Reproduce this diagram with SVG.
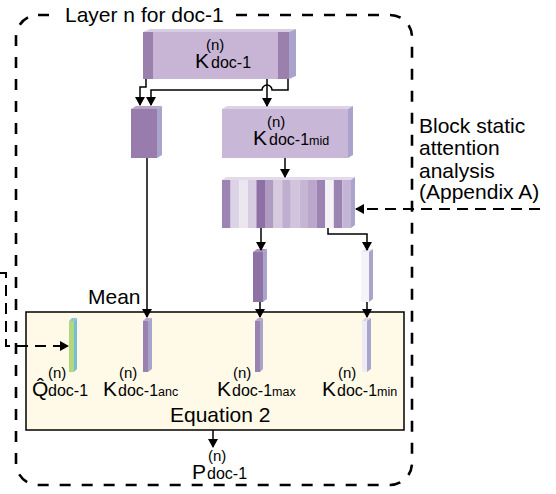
<svg xmlns="http://www.w3.org/2000/svg" width="556" height="494" viewBox="0 0 556 494">
  <style>
    .t{font-family:"Liberation Sans",Arial,Helvetica,sans-serif;fill:#000}
    .m{font-size:21px}
    .sup{font-size:15px}
    .sub{font-size:16px}
    .sm{font-size:12.5px}
    .ln{fill:none;stroke:#000;stroke-width:1.5}
    .dl{fill:none;stroke:#000;stroke-width:2;stroke-dasharray:11 7}
    .frame{fill:none;stroke:#000;stroke-width:2.6;stroke-dasharray:11 11}
    .side{fill:#a9a4cc}
  </style>
  <defs>
    <marker id="ah" markerUnits="userSpaceOnUse" viewBox="0 0 9 10" refX="8" refY="5" markerWidth="9" markerHeight="10" orient="auto">
      <path d="M0,0 L9,5 L0,10 z" fill="#000"/>
    </marker>
  </defs>
  <rect width="556" height="494" fill="#fff"/>

  <!-- layer frame -->
  <g id="layer-frame">
    <rect x="16" y="15" width="396" height="470" rx="22" class="frame"/>
    <rect x="58" y="4" width="172" height="22" fill="#fff"/>
    <text class="t m" x="65" y="22">Layer n for doc-1</text>
  </g>

  <!-- equation block -->
  <g id="equation">
    <rect x="26" y="312" width="378" height="118" fill="#fffae7" stroke="#000" stroke-width="1.5"/>
    <text class="t m" x="170" y="422">Equation 2</text>
  </g>

  <!-- full key cache -->
  <g id="k-doc">
    <polygon points="143,32 150,29 296,29 289,32" fill="#d9cde3"/>
    <rect x="143" y="32" width="146" height="47" fill="#c8b5d5"/>
    <rect x="143" y="32" width="10" height="47" fill="#9b80ae"/>
    <rect x="278" y="32" width="11" height="47" fill="#9b80ae"/>
    <polygon points="289,32 296,29 296,76 289,79" class="side"/>
    <text class="t m" x="195" y="68">K</text>
    <text class="t sup" x="206" y="50">(n)</text>
    <text class="t sub" x="211" y="68">doc-1</text>
  </g>

  <!-- anchor block -->
  <g id="k-anc-block">
    <polygon points="131,109 136,106 162,106 157,109" fill="#b6a5c6"/>
    <rect x="131" y="109" width="26" height="49" fill="#977cad"/>
    <polygon points="157,109 162,106 162,155 157,158" class="side"/>
  </g>

  <!-- middle key cache -->
  <g id="k-mid">
    <polygon points="222,109 227,106 353,106 348,109" fill="#ddd2e6"/>
    <rect x="222" y="109" width="126" height="49" fill="#c9b7d7"/>
    <polygon points="348,109 353,106 353,155 348,158" class="side"/>
    <text class="t m" x="253" y="145">K</text>
    <text class="t sup" x="267" y="127">(n)</text>
    <text class="t sub" x="269" y="145">doc-1<tspan class="sm">mid</tspan></text>
  </g>

  <!-- per-block attention strips -->
  <g id="k-blocks">
    <polygon points="222,180 226,177 355,177 351,180" fill="#e3dbea"/>
    <rect x="222" y="180" width="8.6" height="48" fill="#9d85b3"/>
    <rect x="230.6" y="180" width="8.6" height="48" fill="#ddd3e6"/>
    <rect x="239.2" y="180" width="8.6" height="48" fill="#ece6f0"/>
    <rect x="247.8" y="180" width="8.6" height="48" fill="#d8cce2"/>
    <rect x="256.4" y="180" width="8.6" height="48" fill="#8e70a4"/>
    <rect x="265" y="180" width="8.6" height="48" fill="#b09cc0"/>
    <rect x="273.6" y="180" width="8.6" height="48" fill="#d6cadf"/>
    <rect x="282.2" y="180" width="8.6" height="48" fill="#c0aed0"/>
    <rect x="290.8" y="180" width="8.6" height="48" fill="#d2c4dc"/>
    <rect x="299.4" y="180" width="8.6" height="48" fill="#c7b5d4"/>
    <rect x="308" y="180" width="8.6" height="48" fill="#bba7cb"/>
    <rect x="316.6" y="180" width="8.6" height="48" fill="#9c84b2"/>
    <rect x="325.2" y="180" width="8.6" height="48" fill="#f5f2f7"/>
    <rect x="333.8" y="180" width="8.6" height="48" fill="#9c84b2"/>
    <rect x="342.4" y="180" width="8.6" height="48" fill="#c5b5d4"/>
    <polygon points="351,180 355,177 355,225 351,228" class="side"/>
  </g>

  <!-- selected max / min blocks -->
  <g id="k-max-block">
    <polygon points="253,252 257,249 267,249 263,252" fill="#a993bd"/>
    <rect x="253" y="252" width="10" height="50" fill="#8e72a6"/>
    <polygon points="263,252 267,249 267,299 263,302" class="side"/>
  </g>
  <g id="k-min-block">
    <polygon points="361,252 365,249 373,249 369,252" fill="#ebe6f1"/>
    <rect x="361" y="252" width="8" height="50" fill="#f5f2f8"/>
    <polygon points="369,252 373,249 373,299 369,302" class="side"/>
  </g>

  <!-- inputs of equation 2 -->
  <g id="q-hat">
    <polygon points="69,321 72,318 77,318 74,321" fill="#8fc7d6"/>
    <rect x="69" y="321" width="5" height="51" fill="#b2d77f"/>
    <polygon points="74,321 77,318 77,369 74,372" fill="#78bdd0"/>
    <text class="t m" x="32" y="396">Q&#x302;</text>
    <text class="t sup" x="48" y="378">(n)</text>
    <text class="t sub" x="48" y="396">doc-1</text>
  </g>
  <g id="k-anc">
    <polygon points="143,321 146,318 152,318 148,321" fill="#b9a9ca"/>
    <rect x="143" y="321" width="5" height="51" fill="#9a81b0"/>
    <polygon points="148,321 152,318 152,369 148,372" class="side"/>
    <text class="t m" x="103" y="396">K</text>
    <text class="t sup" x="119" y="378">(n)</text>
    <text class="t sub" x="118" y="396">doc-1<tspan class="sm">anc</tspan></text>
  </g>
  <g id="k-max">
    <polygon points="255,321 258,318 263,318 260,321" fill="#b9a9ca"/>
    <rect x="255" y="321" width="5" height="51" fill="#9a82b1"/>
    <polygon points="260,321 263,318 263,369 260,372" class="side"/>
    <text class="t m" x="217" y="396">K</text>
    <text class="t sup" x="233" y="378">(n)</text>
    <text class="t sub" x="232" y="396">doc-1<tspan class="sm">max</tspan></text>
  </g>
  <g id="k-min">
    <polygon points="362,321 365,318 371,318 367,321" fill="#dcd6e8"/>
    <rect x="362" y="321" width="5" height="51" fill="#efebf5"/>
    <polygon points="367,321 371,318 371,369 367,372" class="side"/>
    <text class="t m" x="322" y="396">K</text>
    <text class="t sup" x="338" y="378">(n)</text>
    <text class="t sub" x="337" y="396">doc-1<tspan class="sm">min</tspan></text>
  </g>

  <!-- output -->
  <g id="p-out">
    <text class="t m" x="192" y="479">P</text>
    <text class="t sup" x="208" y="461">(n)</text>
    <text class="t sub" x="207" y="479">doc-1</text>
  </g>

  <!-- side note -->
  <g id="analysis-note">
    <text class="t m" x="419" y="133">Block static</text>
    <text class="t m" x="419" y="155">attention</text>
    <text class="t m" x="419" y="178">analysis</text>
    <text class="t m" x="419" y="199">(Appendix A)</text>
  </g>

  <!-- connectors -->
  <g id="connectors">
    <path class="ln" d="M146,79 V87 H140 V105" marker-end="url(#ah)"/>
    <path class="ln" d="M288,79 V90 H272 A5,5 0 0 0 262,90 H151 V105" marker-end="url(#ah)"/>
    <path class="ln" d="M267,79 V106" marker-end="url(#ah)"/>
    <path class="ln" d="M285,158 V177" marker-end="url(#ah)"/>
    <path class="ln" d="M147,158 V317" marker-end="url(#ah)"/>
    <path class="ln" d="M261,228 V250" marker-end="url(#ah)"/>
    <path class="ln" d="M328,228 V234 H367 V250" marker-end="url(#ah)"/>
    <path class="ln" d="M260,302 V317" marker-end="url(#ah)"/>
    <path class="ln" d="M367,302 V317" marker-end="url(#ah)"/>
    <path class="ln" d="M213,430 V447" marker-end="url(#ah)"/>
    <text class="t m" x="88" y="304">Mean</text>
    <path class="dl" d="M540,209 H356" marker-end="url(#ah)"/>
    <path class="dl" d="M0,273 H6 V346 H68" marker-end="url(#ah)"/>
  </g>
</svg>
